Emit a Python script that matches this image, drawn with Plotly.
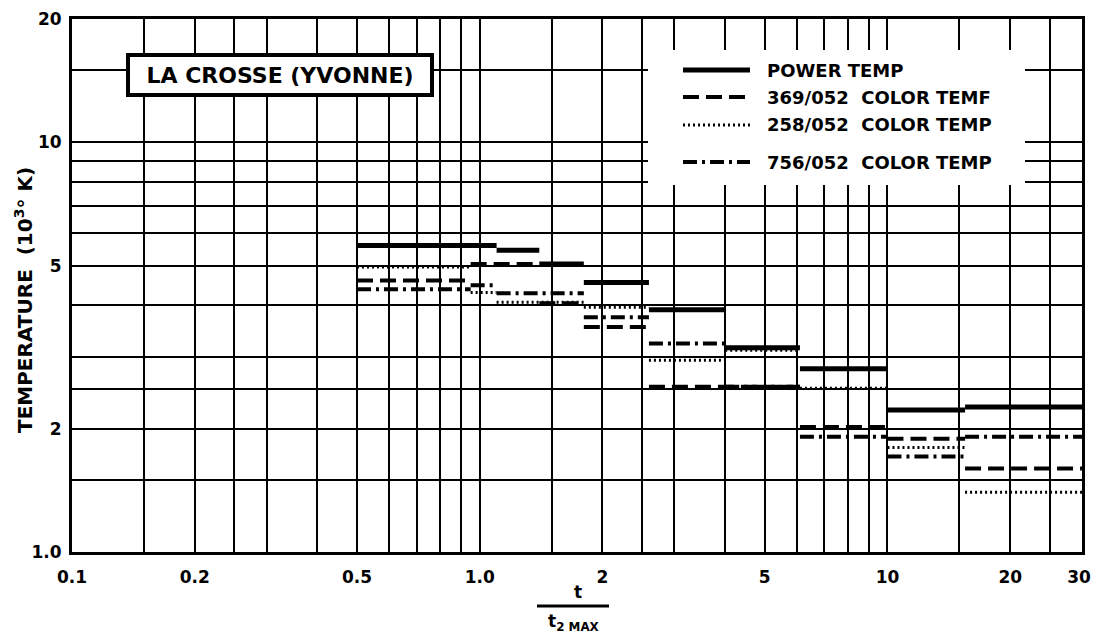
"""
La Crosse (Yvonne) - power temperature vs colour temperatures
Step chart on log-log paper
"""

import plotly.graph_objects as go

# --- data: horizontal step segments (start, end, value) ---
power_start = [0.5, 1.1, 1.4, 1.8, 2.6, 4.0, 6.1, 10.0, 15.5]
power_end = [1.1, 1.4, 1.8, 2.6, 4.0, 6.1, 10.0, 15.5, 30.0]
power_temp = [5.6, 5.45, 5.05, 4.55, 3.9, 3.15, 2.8, 2.22, 2.26]

c369_start = [0.5, 0.95, 1.4, 1.8, 2.6, 6.1, 10.0, 15.5]
c369_end = [0.95, 1.4, 1.8, 2.6, 6.1, 10.0, 15.5, 30.0]
c369_temp = [4.6, 5.05, 4.05, 3.54, 2.53, 2.02, 1.89, 1.6]

c258_start = [0.5, 0.95, 1.1, 1.8, 2.6, 4.0, 6.1, 10.0, 15.5]
c258_end = [0.95, 1.1, 1.8, 2.6, 4.0, 6.1, 10.0, 15.5, 30.0]
c258_temp = [4.96, 4.3, 4.07, 3.96, 2.94, 3.11, 2.51, 1.8, 1.4]

c756_start = [0.5, 0.95, 1.1, 1.8, 2.6, 4.0, 6.1, 10.0, 15.5]
c756_end = [0.95, 1.1, 1.8, 2.6, 4.0, 6.1, 10.0, 15.5, 30.0]
c756_temp = [4.38, 4.48, 4.28, 3.74, 3.23, 2.53, 1.91, 1.71, 1.91]

# log paper grid + labels
x_grid = [0.1, 0.15, 0.2, 0.25, 0.3, 0.4, 0.5, 0.6, 0.7, 0.8, 0.9,
          1, 1.5, 2, 2.5, 3, 4, 5, 6, 7, 8, 9, 10, 15, 20, 25, 30]
x_labels = {0.1: "0.1", 0.2: "0.2", 0.5: "0.5", 1: "1.0", 2: "2",
            5: "5", 10: "10", 20: "20", 30: "30\u00a0"}
y_grid = [1, 1.5, 2, 2.5, 3, 4, 5, 6, 7, 8, 9, 10, 15, 20]
y_labels = {1: "1.0", 2: "2", 5: "5", 10: "10", 20: "20"}

series = [
    ("POWER TEMP", power_start, power_end, power_temp, "solid", 5),
    ("369/052  COLOR TEMF", c369_start, c369_end, c369_temp, "16px,7px", 4),
    ("258/052  COLOR TEMP", c258_start, c258_end, c258_temp, "2px,3px", 3),
    ("756/052  COLOR TEMP", c756_start, c756_end, c756_temp, "14px,5px,3px,5px", 4),
]

FONT = "DejaVu Sans"

# plot area in page pixels (page body has an 8px margin)
L, R, T, B = 72, 1082, 19, 552
OFF = 8
FIG_W, FIG_H = 1099 - OFF, 637 - OFF


def px(x):
    return (x - L) / (R - L)


def py(y):
    return (B - y) / (B - T)


def note(x, y, text, size, **kw):
    fig.add_annotation(x=px(x), y=py(y), xref="paper", yref="paper",
                       text=text, showarrow=False,
                       xanchor=kw.pop("xanchor", "center"), yanchor="middle",
                       font=dict(family=FONT, size=size, color="black", weight="bold"),
                       **kw)


fig = go.Figure()

for name, starts, ends, vals, dash, width in series:
    xs, ys = [], []
    for s, e, v in zip(starts, ends, vals):
        xs += [s, e, None]
        ys += [v, v, None]
    fig.add_trace(go.Scatter(
        x=xs, y=ys, mode="lines", name=name,
        line=dict(color="black", width=width, dash=dash),
        showlegend=False,
    ))

# white box hiding the grid behind the legend
fig.add_shape(type="rect", xref="paper", yref="paper", layer="above",
              x0=px(648), x1=px(1025), y0=py(185), y1=py(50),
              fillcolor="white", line=dict(width=0))

legend_rows = [70, 97, 125, 162]
for (name, _, _, _, dash, width), row in zip(series, legend_rows):
    fig.add_shape(type="line", xref="paper", yref="paper", layer="above",
                  x0=px(683), x1=px(750), y0=py(row), y1=py(row),
                  line=dict(color="black", width=width, dash=dash))
    note(765, row, name, 18, xanchor="left")

# title box
note(280, 75, "LA CROSSE (YVONNE)", 22,
     bgcolor="white", bordercolor="black", borderwidth=4,
     width=296, height=32, borderpad=2)

# y axis title
note(24, 300, "TEMPERATURE  (10<sup>3</sup>° K)", 20, textangle=-90)

# x axis title as a fraction t / t2max
note(578, 592, "t", 17)
fig.add_shape(type="line", xref="paper", yref="paper",
              x0=px(537), x1=px(609), y0=py(606), y1=py(606),
              line=dict(color="black", width=3))
note(573, 622, "t<sub>2 MAX</sub>", 17)

tick_font = dict(family=FONT, size=17, color="black", weight="bold")

fig.update_xaxes(
    type="log", range=[-1, 1.4771],
    tickvals=x_grid, ticktext=[x_labels.get(v, "") for v in x_grid],
    showgrid=True, gridcolor="black", gridwidth=2,
    showline=True, linecolor="black", linewidth=3, mirror=True,
    ticks="", tickfont=tick_font, ticklabelstandoff=8, zeroline=False,
    automargin=False,
)
fig.update_yaxes(
    type="log", range=[0, 1.30103],
    tickvals=y_grid, ticktext=[y_labels.get(v, "") for v in y_grid],
    showgrid=True, gridcolor="black", gridwidth=2,
    showline=True, linecolor="black", linewidth=3, mirror=True,
    ticks="", tickfont=tick_font, ticklabelstandoff=4, zeroline=False,
    automargin=False,
)

fig.update_layout(
    width=FIG_W, height=FIG_H,
    margin=dict(l=L - OFF, r=1099 - R, t=T - OFF, b=FIG_H - (B - OFF)),
    paper_bgcolor="white", plot_bgcolor="white",
    showlegend=False,
)

fig.write_html("out.html")
